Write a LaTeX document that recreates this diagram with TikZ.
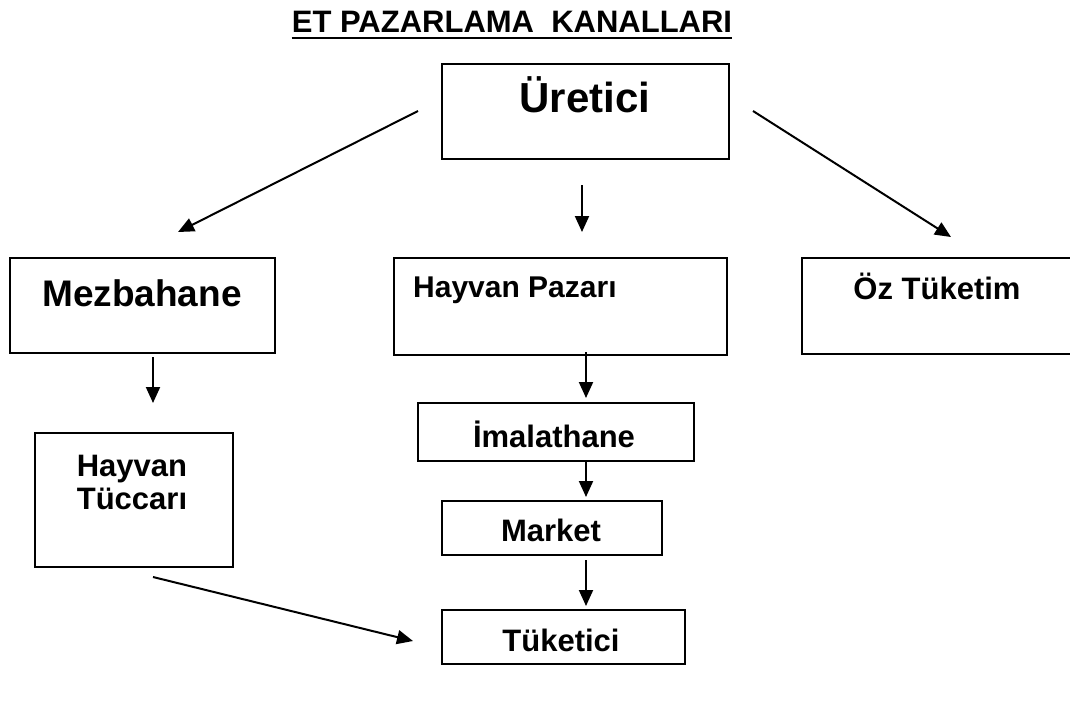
\documentclass[tikz,border=0pt]{standalone}
\usepackage{fontspec}
\setmainfont{Liberation Sans}
\usetikzlibrary{arrows.meta}
\tikzset{
  box/.style={draw, line width=2pt, inner sep=0pt, anchor=north west},
  wh/.style 2 args={minimum width=#1pt, minimum height=#2pt},
  lbl/.style={inner sep=0pt, font=\bfseries\fontsize{31}{36}\selectfont},
  arr/.style={line width=2pt, -{Triangle[length=16pt,width=14pt]}}
}
\begin{document}
\begin{tikzpicture}[x=1pt,y=-1pt]
\useasboundingbox (0,0) rectangle (1070,709);
% title
\node[lbl, anchor=base] (title) at (512,33) {ET PAZARLAMA\ \ KANALLARI};
\draw[line width=2.6pt] ([yshift=-5pt]title.base west) -- ([yshift=-5pt]title.base east);
% boxes
\node[box, wh={287}{95}] (ur) at (441,63) {};
\node[box, wh={265}{95}] (mez) at (9,257) {};
\node[box, wh={333}{97}] (hp) at (393,257) {};
\node[box, wh={275}{96}] (oz) at (801,257) {};
\node[box, wh={198}{134}] (ht) at (34,432) {};
\node[box, wh={276}{58}] (im) at (417,402) {};
\node[box, wh={220}{54}] (mk) at (441,500) {};
\node[box, wh={243}{54}] (tk) at (441,609) {};
% texts
\node[lbl, font=\bfseries\fontsize{42}{48}\selectfont, anchor=base] (urt) at (585,112) {Üretici};
\node[lbl, font=\bfseries\fontsize{37}{42}\selectfont, anchor=base] (mezt) at (142,306) {Mezbahane};
\node[lbl, font=\bfseries\fontsize{30}{36}\selectfont, anchor=base west] (hpt) at (413,297) {Hayvan Pazarı};
\node[lbl, anchor=base] (ozt) at (937,299) {Öz Tüketim};
\node[lbl, anchor=base] (htt1) at (132,476) {Hayvan};
\node[lbl, anchor=base] (htt2) at (132,509) {Tüccarı};
\node[lbl, anchor=base] (imt) at (554,447) {İmalathane};
\node[lbl, anchor=base] (mkt) at (551,541) {Market};
\node[lbl, anchor=base] (tkt) at (561,651) {Tüketici};
% arrow end points
\coordinate (a1s) at (418,111); \coordinate (a1e) at (178,232);
\coordinate (a2s) at (582,185); \coordinate (a2e) at (582,232);
\coordinate (a3s) at (753,111); \coordinate (a3e) at (951,237);
\coordinate (a4s) at (153,357); \coordinate (a4e) at (153,403);
\coordinate (a5s) at (586,352); \coordinate (a5e) at (586,398);
\coordinate (a6s) at (586,462); \coordinate (a6e) at (586,497);
\coordinate (a7s) at (586,560); \coordinate (a7e) at (586,606);
\coordinate (a8s) at (153,577); \coordinate (a8e) at (413,641);
\draw[arr] (a1s) -- (a1e);
\draw[arr] (a2s) -- (a2e);
\draw[arr] (a3s) -- (a3e);
\draw[arr] (a4s) -- (a4e);
\draw[arr] (a5s) -- (a5e);
\draw[arr] (a6s) -- (a6e);
\draw[arr] (a7s) -- (a7e);
\draw[arr] (a8s) -- (a8e);
\end{tikzpicture}
\end{document}
